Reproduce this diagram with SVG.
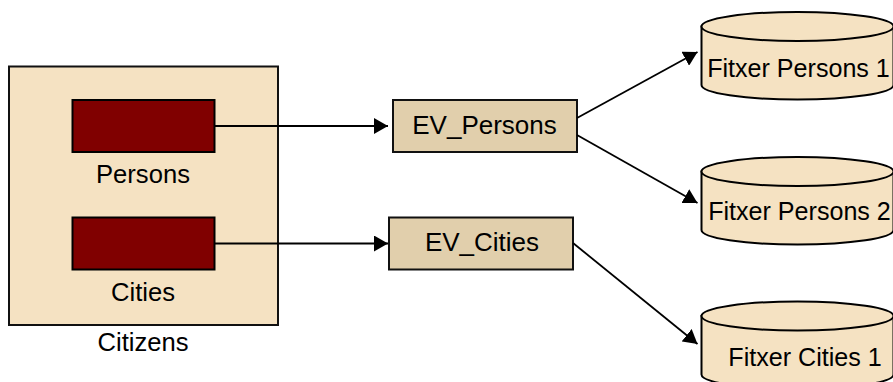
<svg xmlns="http://www.w3.org/2000/svg" width="893" height="382" viewBox="0 0 893 382">
<style>
text{font-family:"Liberation Sans",Arial,sans-serif;font-size:25.6px;fill:#000;text-anchor:middle}
.big{font-size:26px}
.fx{font-size:25.1px}
.pkg{fill:#f5e2c2;stroke:#111;stroke-width:2}
.tbl{fill:#800000;stroke:#000;stroke-width:2}
.ev{fill:#e1cfac;stroke:#111;stroke-width:2}
.db{fill:#f5e2c2;stroke:#000;stroke-width:2}
.c{fill:none;stroke:#000;stroke-width:1.8;marker-end:url(#a)}
</style>
<defs>
<marker id="a" markerUnits="userSpaceOnUse" markerWidth="15" markerHeight="16" refX="14" refY="8" orient="auto">
<path d="M0 0L14 8L0 16Z" fill="#000"/>
</marker>
<g id="cyl">
<path class="db" d="M701.5 26.5V85A96 14.5 0 0 0 893.5 85V26.5Z"/>
<ellipse class="db" cx="797.5" cy="26.5" rx="96" ry="14.5"/>
</g>
</defs>
<g id="citizens">
<rect class="pkg" x="9" y="66.5" width="269" height="258.5"/>
<text x="143" y="351">Citizens</text>
</g>
<g id="persons">
<rect class="tbl" x="72.5" y="100" width="142" height="52"/>
<text x="143" y="183">Persons</text>
</g>
<g id="cities">
<rect class="tbl" x="72.5" y="217.5" width="142" height="52"/>
<text x="143" y="301">Cities</text>
</g>
<g id="ev-persons">
<rect class="ev" x="393" y="100" width="184" height="52"/>
<text class="big" x="484.500" y="134">EV_Persons</text>
</g>
<g id="ev-cities">
<rect class="ev" x="389" y="217.500" width="184" height="52"/>
<text class="big" x="482" y="251">EV_Cities</text>
</g>
<g id="fitxer-persons-1">
<use href="#cyl"/>
<text class="fx" x="798.500" y="77">Fitxer Persons 1</text>
</g>
<g id="fitxer-persons-2">
<use href="#cyl" y="145"/>
<text class="fx" x="799.500" y="220">Fitxer Persons 2</text>
</g>
<g id="fitxer-cities-1">
<use href="#cyl" y="289.500"/>
<text class="fx" x="805" y="366">Fitxer Cities 1</text>
</g>
<g id="connectors">
<path class="c" d="M215 126H388"/>
<path class="c" d="M215 243.500H388"/>
<path class="c" d="M577 118L697.500 52"/>
<path class="c" d="M577 135L697.500 203"/>
<path class="c" d="M573 243L697.500 344"/>
</g>
</svg>
